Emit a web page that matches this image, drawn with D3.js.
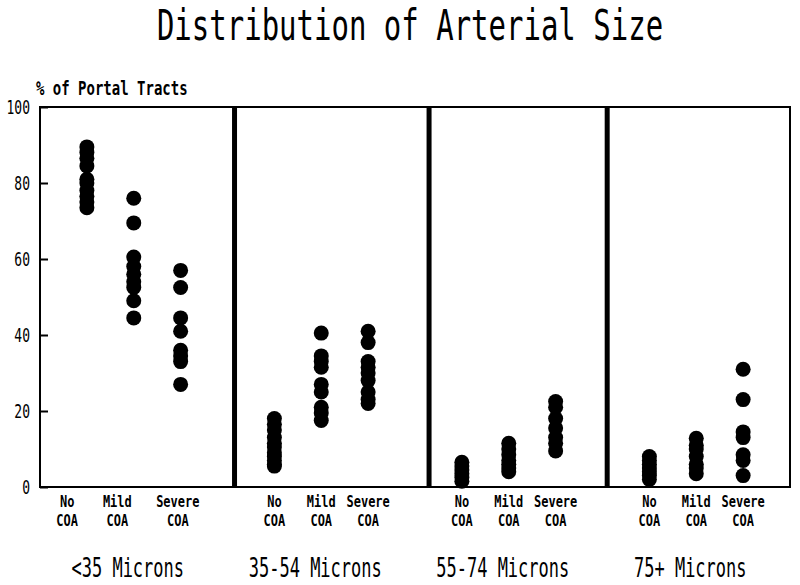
<!DOCTYPE html>
<html>
<head>
<meta charset="utf-8">
<script src="https://cdn.jsdelivr.net/npm/d3@7"></script>
<style>
  body { margin: 0; background: #fff; }
  text { font-family: "DejaVu Sans Mono", "Liberation Mono", monospace; fill: #000; }
</style>
</head>
<body>
<div id="chart"></div>
<script>
// panel names and groups
var panels = ["<35 Microns", "35-54 Microns", "55-74 Microns", "75+ Microns"];
var groups = ["No", "Mild", "Severe"];

// % of portal tracts, one array per panel / group
var lt35No = [89.5, 88, 86.5, 84.5, 81, 80, 78, 76.5, 75, 73.5];
var lt35Mild = [76, 69.5, 60.5, 58, 56, 54, 52.5, 49, 44.5];
var lt35Severe = [57, 52.5, 44.5, 41, 36, 34.5, 33, 27];

var m35No = [18, 16.5, 15, 13, 11.5, 10.5, 9, 8, 7, 6, 5.5];
var m35Mild = [40.5, 34.5, 33, 31.5, 27, 25, 21, 19.5, 17.5];
var m35Severe = [41, 38, 33, 31.5, 30, 28, 25, 23, 22];

var m55No = [6.5, 5.5, 4.5, 3.5, 2.5, 1.5];
var m55Mild = [11.5, 10, 8.5, 7, 6, 5, 4];
var m55Severe = [22.5, 21, 18, 15.5, 13, 11.5, 9.5];

var m75No = [8, 7, 6, 5, 4, 3, 2];
var m75Mild = [12.8, 11, 10, 8, 6, 5, 3.5];
var m75Severe = [31, 23, 14.5, 13, 8.5, 7, 3];

var yTicks = [0, 20, 40, 60, 80, 100];

var series = [
  [lt35No, lt35Mild, lt35Severe],
  [m35No, m35Mild, m35Severe],
  [m55No, m55Mild, m55Severe],
  [m75No, m75Mild, m75Severe]
];

var svgWidth = 800, svgHeight = 585;
var margin = { top: 107, right: 10, bottom: 98, left: 40 };
var width = svgWidth - margin.left - margin.right;
var height = svgHeight - margin.top - margin.bottom;

var svg = d3.select("#chart").append("svg")
  .attr("width", svgWidth)
  .attr("height", svgHeight);

var g = svg.append("g")
  .attr("transform", `translate(${margin.left}, ${margin.top})`);

// column slot = panel * 4 + group index
var x = d3.scaleLinear().domain([-1, 15]).range([0, width]);
var y = d3.scaleLinear().domain([0, 100]).range([height, 0]);

var dividers = [3.15, 7.3, 11.1];
// first panel's group labels sit a bit left of their dots in the original
var labelShift = [[-0.42, -0.35, -0.06], [0, 0, 0], [0, 0, 0], [0, 0, 0]];

// flatten points
var points = [];
series.forEach(function (p, i) {
  p.forEach(function (vals, j) {
    vals.forEach(function (v) {
      points.push({ slot: i * 4 + j, value: v });
    });
  });
});

// frame
g.append("rect")
  .attr("x", 0).attr("y", 0)
  .attr("width", width).attr("height", height)
  .attr("fill", "none")
  .attr("stroke", "#000")
  .attr("stroke-width", 2);

g.selectAll(".divider")
  .data(dividers)
  .enter()
  .append("line")
  .attr("class", "divider")
  .attr("x1", d => x(d)).attr("x2", d => x(d))
  .attr("y1", 0).attr("y2", height)
  .attr("stroke", "#000")
  .attr("stroke-width", 5);

// y axis ticks pointing inward
var leftAxis = d3.axisRight(y).tickValues(yTicks).tickSize(8).tickFormat("");
var ax = g.append("g").call(leftAxis);
ax.select(".domain").remove();
ax.selectAll("line").attr("stroke-width", 2);

g.selectAll(".ylab")
  .data(yTicks)
  .enter()
  .append("text")
  .attr("class", "ylab")
  .attr("text-anchor", "end")
  .attr("font-size", 13)
  .attr("transform", d => `translate(-10, ${y(d) + 7}) scale(1, 1.45)`)
  .text(d => d);

// points
g.selectAll("circle")
  .data(points)
  .enter()
  .append("circle")
  .attr("cx", d => x(d.slot))
  .attr("cy", d => y(d.value))
  .attr("r", 7.5)
  .attr("fill", "#000");

// group labels
panels.forEach(function (name, i) {
  groups.forEach(function (grp, j) {
    var cx = x(i * 4 + j + labelShift[i][j]);
    g.append("text")
      .attr("text-anchor", "middle")
      .attr("font-size", 12)
      .attr("font-weight", "bold")
      .attr("transform", `translate(${cx}, ${height + 20}) scale(1, 1.35)`)
      .text(grp);
    g.append("text")
      .attr("text-anchor", "middle")
      .attr("font-size", 12)
      .attr("font-weight", "bold")
      .attr("transform", `translate(${cx}, ${height + 39}) scale(1, 1.35)`)
      .text("COA");
  });
  g.append("text")
    .attr("text-anchor", "middle")
    .attr("font-size", 17)
    .attr("transform", `translate(${x(i * 4 + 1) - 6}, ${height + 90}) scale(1, 1.6)`)
    .text(name);
});

// axis title
svg.append("text")
  .attr("font-size", 14)
  .attr("font-weight", "bold")
  .attr("transform", "translate(36, 95) scale(1, 1.45)")
  .text("% of Portal Tracts");

// chart title
svg.append("text")
  .attr("text-anchor", "middle")
  .attr("font-size", 29)
  .attr("transform", "translate(410, 40) scale(1, 1.45)")
  .text("Distribution of Arterial Size");
</script>
</body>
</html>
